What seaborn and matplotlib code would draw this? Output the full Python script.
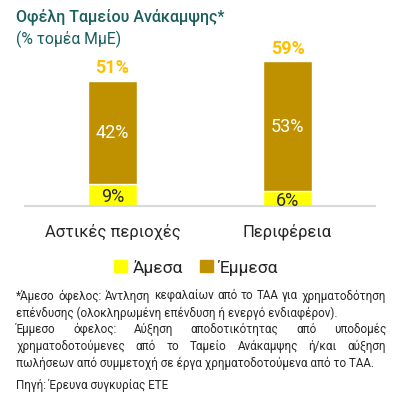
import matplotlib
matplotlib.use("Agg")
import matplotlib.pyplot as plt
import seaborn as sns
import pandas as pd

# -------------------------
# DATA
# -------------------------
regions = ["Αστικές περιοχές", "Περιφέρεια"]
direct = [9, 6]        # Άμεσα
indirect = [42, 53]    # Έμμεσα
totals = [51, 59]

title = "Οφέλη Ταμείου Ανάκαμψης*"
subtitle = "(% τομέα ΜμΕ)"
note_direct = ("*Άμεσο όφελος: Άντληση κεφαλαίων από το ΤΑΑ για χρηματοδότηση "
               "επένδυσης (ολοκληρωμένη επένδυση ή ενεργό ενδιαφέρον).")
note_indirect = ("Έμμεσο όφελος: Αύξηση αποδοτικότητας από υποδομές "
                 "χρηματοδοτούμενες από το Ταμείο Ανάκαμψης ή/και αύξηση "
                 "πωλήσεων από συμμετοχή σε έργα χρηματοδοτούμενα από το ΤΑΑ.")
source = "Πηγή: Έρευνα συγκυρίας ΕΤΕ"

YELLOW = "#FFFF00"
GOLD = "#BF9000"
LABEL_GOLD = "#FFC000"
TEAL = "#1B5E5E"

df = pd.DataFrame({"region": regions, "direct": direct,
                   "indirect": indirect, "total": totals})

sns.set_style("white")
plt.rcParams["font.family"] = ["Roboto", "DejaVu Sans"]

fig = plt.figure(figsize=(3.96, 4.06), dpi=100)
ax = fig.add_axes([25 / 396, 1 - 207 / 406, 350 / 396, 167 / 406])

# stacked bars: total (gold) under, direct (yellow) on top of it at the bottom
sns.barplot(data=df, x="region", y="total", color=GOLD, width=0.28,
            saturation=1, ax=ax)
sns.barplot(data=df, x="region", y="direct", color=YELLOW, width=0.28,
            saturation=1, ax=ax)

ax.set_ylim(0, 68)
ax.set_xlim(-0.5, 1.5)
ax.set_xlabel("")
ax.set_ylabel("")
ax.set_yticks([])
ax.set_xticks([])
for s in ["top", "right", "left"]:
    ax.spines[s].set_visible(False)
ax.spines["bottom"].set_color("#D9D9D9")
ax.spines["bottom"].set_linewidth(1.5)

for i in range(len(regions)):
    ax.text(i, direct[i] / 2 - 0.6, f"{direct[i]}%", ha="center", va="center",
            fontsize=13, color="#262626")
    ax.text(i, direct[i] + indirect[i] / 2, f"{indirect[i]}%", ha="center",
            va="center", fontsize=13, color="white")
    ax.text(i, totals[i] + 1.8, f"{totals[i]}%", ha="center", va="bottom",
            fontsize=13, fontweight="bold", color=LABEL_GOLD)
    ax.text(i, -10, regions[i], ha="center", va="center", fontsize=12,
            color="#262626")

# titles
fig.text(16 / 396, 1 - 17 / 406, title, fontsize=11.5, fontweight="medium",
         color=TEAL, va="center", ha="left")
fig.text(16 / 396, 1 - 39 / 406, subtitle, fontsize=11.3, color=TEAL,
         va="center", ha="left")

# legend
handles = [plt.Rectangle((0, 0), 1, 1, color=YELLOW),
           plt.Rectangle((0, 0), 1, 1, color=GOLD)]
fig.legend(handles, ["Άμεσα", "Έμμεσα"], loc="center",
           bbox_to_anchor=(196 / 396, 1 - 268 / 406), ncol=2, frameon=False,
           fontsize=12.5, handlelength=0.75, handleheight=0.75,
           handletextpad=0.3, columnspacing=1.0)

# -------------------------
# FOOTNOTES (justified by hand)
# -------------------------
fig.canvas.draw()
renderer = fig.canvas.get_renderer()
left_px, right_px = 16, 386
fs = 8.4


def text_w(s):
    t = fig.text(0, 0, s, fontsize=fs)
    w = t.get_window_extent(renderer).width
    t.remove()
    return w


def wrap(par):
    words = par.split(" ")
    lines, cur = [], []
    for w in words:
        trial = " ".join(cur + [w])
        if cur and text_w(trial) > right_px - left_px:
            lines.append(cur)
            cur = [w]
        else:
            cur.append(w)
    lines.append(cur)
    return lines


def draw_par(par, y_start, step):
    lines = wrap(par)
    y = y_start
    for k, words in enumerate(lines):
        yy = 1 - y / 406
        if k == len(lines) - 1 or len(words) == 1:
            fig.text(left_px / 396, yy, " ".join(words), fontsize=fs,
                     color="#262626", va="center")
        else:
            widths = [text_w(w) for w in words]
            gap = (right_px - left_px - sum(widths)) / (len(words) - 1)
            x = left_px
            for w, ww in zip(words, widths):
                fig.text(x / 396, yy, w, fontsize=fs, color="#262626",
                         va="center")
                x += ww + gap
        y += step
    return y


y_next = draw_par(note_direct, 296, 16.8)
draw_par(note_indirect, y_next, 16.8)
fig.text(left_px / 396, 1 - 385 / 406, source, fontsize=fs, color="#262626",
         va="center")

plt.savefig("out.png", dpi=100)
plt.close()
